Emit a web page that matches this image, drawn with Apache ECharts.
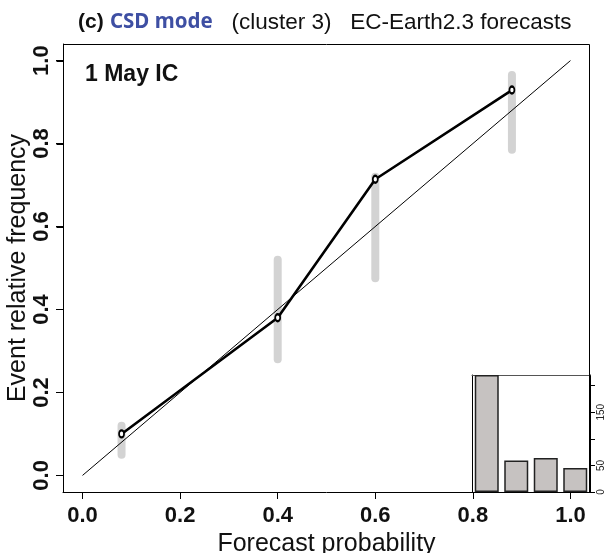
<!DOCTYPE html>
<html>
<head>
<meta charset="utf-8">
<script src="https://cdn.jsdelivr.net/npm/echarts@6/dist/echarts.min.js"></script>
<style>
html,body{margin:0;padding:0;background:#fff;}
#chart{width:616px;height:553px;}
</style>
</head>
<body>
<div id="chart"></div>
<script>
// ---- data ----
var forecastProb = [0.08, 0.40, 0.60, 0.88];
var obsFreq = [0.10, 0.38, 0.714, 0.929];
var ciLow = [0.05, 0.28, 0.475, 0.785];
var ciHigh = [0.12, 0.52, 0.72, 0.965];
var diagonal = [[0, 0], [1, 1]];
var axisTicks = [0, 0.2, 0.4, 0.6, 0.8, 1.0];
var histBins = ['0-0.25', '0.25-0.5', '0.5-0.75', '0.75-1'];
var histCounts = [220, 59, 64, 45];
var histTicks = [0, 50, 100, 150, 200];
var histTickLabels = [0, 50, 150];

var FONT = '"Liberation Sans", Arial, Helvetica, sans-serif';
var AX_MIN = -0.04, AX_MAX = 1.04;

var chart = echarts.init(document.getElementById('chart'));

var relData = forecastProb.map(function (x, i) { return [x, obsFreq[i]]; });
var ciData = forecastProb.map(function (x, i) { return [x, ciLow[i], ciHigh[i]]; });
var histData = histCounts.slice();

function frameAxis(gridIndex, position, color) {
  return {
    gridIndex: gridIndex, type: 'value', min: 0, max: 1, position: position,
    axisLine: {show: true, onZero: false, lineStyle: {color: color || '#000', width: 1}},
    axisTick: {show: false}, axisLabel: {show: false}, splitLine: {show: false}
  };
}

var option = {
  animation: false,
  title: [
    {
      text: '{a|(c)} {b|CSD mode}   {c|(cluster 3)   EC-Earth2.3 forecasts}',
      left: 78, top: 11, padding: 0,
      textStyle: {
        fontFamily: FONT, fontSize: 22.5,
        rich: {
          a: {fontFamily: FONT, fontWeight: 'bold', fontSize: 21, color: '#111'},
          b: {fontFamily: '"Noto Sans", "Open Sans", sans-serif', fontWeight: 'bold', fontSize: 20.5, color: '#3e4fa3'},
          c: {fontFamily: FONT, fontWeight: 'normal', fontSize: 22.5, color: '#111'}
        }
      }
    },
    {
      text: '1 May IC',
      left: 85, top: 63, padding: 0,
      textStyle: {fontFamily: FONT, fontWeight: 'bold', fontSize: 23, color: '#111'}
    }
  ],
  grid: [
    {left: 63, right: 26, top: 44, bottom: 61, outerBoundsMode: 'none'},
    {left: 472, right: 26, top: 375, bottom: 61, show: true, borderWidth: 0,
     backgroundColor: '#fff', outerBoundsMode: 'none'}
  ],
  xAxis: [
    {
      gridIndex: 0, type: 'value', min: AX_MIN, max: AX_MAX, position: 'bottom',
      name: 'Forecast probability', nameLocation: 'middle', nameGap: 35,
      nameTextStyle: {fontFamily: FONT, fontSize: 25, color: '#111'},
      axisLine: {show: true, onZero: false, lineStyle: {color: '#000', width: 1}},
      axisTick: {show: true, inside: false, length: 7, lineStyle: {color: '#000'}, customValues: axisTicks},
      axisLabel: {
        customValues: axisTicks, margin: 13,
        fontFamily: FONT, fontWeight: 'bold', fontSize: 22, color: '#111',
        formatter: function (v) { return v.toFixed(1); }
      },
      splitLine: {show: false}
    },
    {
      gridIndex: 1, type: 'category', data: histBins, show: false, boundaryGap: true
    },
    frameAxis(1, 'top', '#555')
  ],
  yAxis: [
    {
      gridIndex: 0, type: 'value', min: AX_MIN, max: AX_MAX, position: 'left',
      name: 'Event relative frequency', nameLocation: 'middle', nameGap: 32, nameMoveOverlap: false,
      nameTextStyle: {fontFamily: FONT, fontSize: 25, color: '#111'},
      axisLine: {show: true, onZero: false, lineStyle: {color: '#000', width: 1}},
      axisTick: {show: true, inside: false, length: 7, lineStyle: {color: '#000'}, customValues: axisTicks},
      axisLabel: {
        customValues: axisTicks, margin: 10, rotate: 90,
        fontFamily: FONT, fontWeight: 'bold', fontSize: 22, color: '#111',
        formatter: function (v) { return v.toFixed(1); }
      },
      splitLine: {show: false}
    },
    {
      gridIndex: 1, type: 'value', position: 'right', min: 0, max: 220,
      axisLine: {show: true, onZero: false, lineStyle: {color: '#000', width: 1}},
      axisTick: {show: true, inside: false, length: 5, lineStyle: {color: '#000'}, customValues: histTicks},
      axisLabel: {
        customValues: histTickLabels, margin: 6, rotate: 90,
        fontFamily: FONT, fontSize: 10, color: '#222'
      },
      splitLine: {show: false}
    },
    frameAxis(1, 'left')
  ],
  series: [
    {
      type: 'custom',
      xAxisIndex: 0, yAxisIndex: 0,
      data: ciData,
      z: 1,
      renderItem: function (params, api) {
        var p1 = api.coord([api.value(0), api.value(1)]);
        var p2 = api.coord([api.value(0), api.value(2)]);
        return {
          type: 'line',
          shape: {x1: p1[0], y1: p1[1], x2: p2[0], y2: p2[1]},
          style: {stroke: '#d3d3d3', lineWidth: 8, lineCap: 'round'}
        };
      }
    },
    {
      type: 'line',
      xAxisIndex: 0, yAxisIndex: 0,
      data: diagonal,
      symbol: 'none',
      z: 2,
      lineStyle: {color: '#000', width: 1}
    },
    {
      type: 'line',
      xAxisIndex: 0, yAxisIndex: 0,
      data: relData,
      symbol: 'circle',
      symbolSize: [5, 7],
      z: 3,
      itemStyle: {color: '#fff', borderColor: '#000', borderWidth: 2},
      lineStyle: {color: '#000', width: 2.6}
    },
    {
      type: 'bar',
      xAxisIndex: 1, yAxisIndex: 1,
      data: histData,
      barWidth: 24,
      z: 6,
      itemStyle: {color: '#c6c2c1', borderColor: '#222', borderWidth: 1.5}
    }
  ]
};

chart.setOption(option);

// Plot box and left-axis ticks, positioned through the main grid's scales.
var finder = {xAxisIndex: 0, yAxisIndex: 0};
var pMin = chart.convertToPixel(finder, [AX_MIN, AX_MIN]);
var pMax = chart.convertToPixel(finder, [AX_MAX, AX_MAX]);
var bx0 = Math.round(pMin[0]) + 0.5, by1 = Math.round(pMin[1]) + 0.5;
var bx1 = Math.round(pMax[0]) - 0.5, by0 = Math.round(pMax[1]) + 0.5;
var frameElems = [{
  type: 'polyline', z: 100, silent: true,
  shape: {points: [[bx0, by1], [bx0, by0], [bx1, by0], [bx1, by1]]},
  style: {fill: null, stroke: '#000', lineWidth: 1}
}];
axisTicks.forEach(function (t) {
  var p = chart.convertToPixel(finder, [AX_MIN, t]);
  var ty = Math.round(p[1]) + 0.5;
  frameElems.push({
    type: 'line', z: 100, silent: true,
    shape: {x1: bx0 - 7, y1: ty, x2: bx0, y2: ty},
    style: {stroke: '#000', lineWidth: 1}
  });
});
chart.setOption({graphic: {elements: frameElems}});
</script>
</body>
</html>
